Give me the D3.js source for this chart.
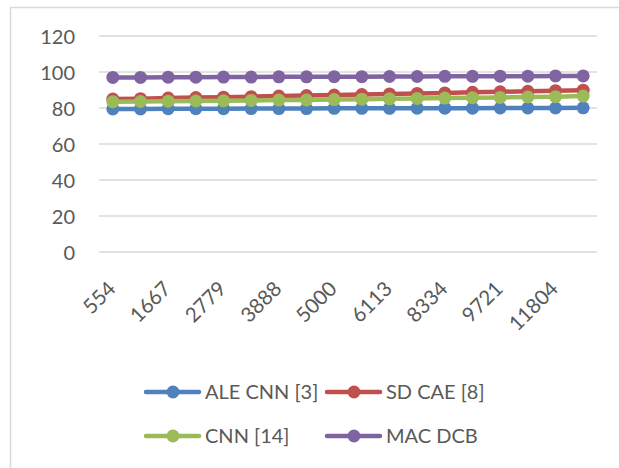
<!DOCTYPE html>
<html><head><meta charset="utf-8">
<script src="https://cdn.jsdelivr.net/npm/d3@7/dist/d3.min.js"></script>
<style>body{margin:0;background:#fff}svg{display:block}</style>
</head><body>
<svg id="c" width="619" height="468"></svg>
<script>
const categories = ["554","1111","1667","2223","2779","3334","3888","4444","5000","5556","6113","7224","8334","9028","9721","10763","11804","12900"];
const aleCnn = [79.5,79.5,79.6,79.6,79.6,79.7,79.7,79.7,79.8,79.8,79.8,79.9,79.9,79.9,80.0,80.0,80.0,80.1];
const sdCae  = [85.0,85.2,85.5,85.8,86.0,86.3,86.6,86.9,87.2,87.5,87.8,88.1,88.4,88.7,89.0,89.3,89.6,89.9];
const cnn14  = [83.5,83.6,83.8,83.9,84.0,84.2,84.4,84.5,84.7,84.9,85.1,85.3,85.5,85.7,85.9,86.1,86.3,86.6];
const macDcb = [97.0,97.0,97.1,97.1,97.2,97.2,97.3,97.3,97.4,97.4,97.5,97.5,97.6,97.6,97.7,97.7,97.8,97.8];
const seriesNames = ["ALE CNN [3]","SD CAE [8]","CNN [14]","MAC DCB"];
const yTicks = [0,20,40,60,80,100,120];

const colors = ["#4f81bd","#c0504d","#9bbb59","#8064a2"];
const series = [aleCnn, sdCae, cnn14, macDcb].map((v,i)=>({name:seriesNames[i], values:v, color:colors[i]}));

const svg = d3.select("#c");
const font = "Lato, 'Open Sans', sans-serif";
const textColor = "#595959";

// outer frame
svg.append("rect").attr("x",10.5).attr("y",7.5).attr("width",640).attr("height",500)
  .attr("fill","#fff").attr("stroke","#d9d9d9").attr("stroke-width",1.5);

const x = d3.scaleBand().domain(categories).range([99,597]);
const y = d3.scaleLinear().domain([0,120]).range([252,36]);

// gridlines
svg.append("g").selectAll("line").data(yTicks).join("line")
  .attr("x1",99).attr("x2",597)
  .attr("y1",d=>y(d)).attr("y2",d=>y(d))
  .attr("stroke","#d9d9d9").attr("stroke-width",1.5);

// y axis labels
const yAxis = d3.axisLeft(y).tickValues(yTicks).tickSize(0).tickPadding(0);
const gy = svg.append("g").attr("transform","translate(75,0)").call(yAxis);
gy.select(".domain").remove();
gy.selectAll("text").attr("font-family",font).attr("font-size",20).attr("fill",textColor).attr("dy","0.35em");

// x axis labels (every other category)
const xAxis = d3.axisBottom(x).tickValues(categories.filter((c,i)=>i%2===0)).tickSize(0).tickPadding(0);
const gx = svg.append("g").attr("transform","translate(0,252)").call(xAxis);
gx.select(".domain").remove();
gx.selectAll("text").attr("font-family",font).attr("font-size",20.5).attr("fill",textColor)
  .attr("text-anchor","end").attr("dy",null)
  .attr("transform","translate(4,38) rotate(-45)");

// lines
const line = d3.line().x((d,i)=>x(categories[i])+x.bandwidth()/2).y(d=>y(d));
series.forEach(s=>{
  const g = svg.append("g");
  g.append("path").datum(s.values).attr("d",line).attr("fill","none")
    .attr("stroke",s.color).attr("stroke-width",4.5).attr("stroke-linejoin","round");
  g.selectAll("circle").data(s.values).join("circle")
    .attr("cx",(d,i)=>x(categories[i])+x.bandwidth()/2).attr("cy",d=>y(d))
    .attr("r",6.5).attr("fill",s.color);
});

// legend
const legPos = [[146,392],[327,392],[146,436],[327,436]];
series.forEach((s,i)=>{
  const [lx,ly] = legPos[i];
  const g = svg.append("g");
  g.append("line").attr("x1",lx).attr("x2",lx+53).attr("y1",ly).attr("y2",ly)
    .attr("stroke",s.color).attr("stroke-width",4.5).attr("stroke-linecap","round");
  g.append("circle").attr("cx",lx+27).attr("cy",ly).attr("r",6.5).attr("fill",s.color);
  g.append("text").attr("x",lx+59).attr("y",ly).attr("dy","0.35em")
    .attr("font-family",font).attr("font-size",20).attr("fill",textColor).text(s.name);
});
</script>
</body></html>
